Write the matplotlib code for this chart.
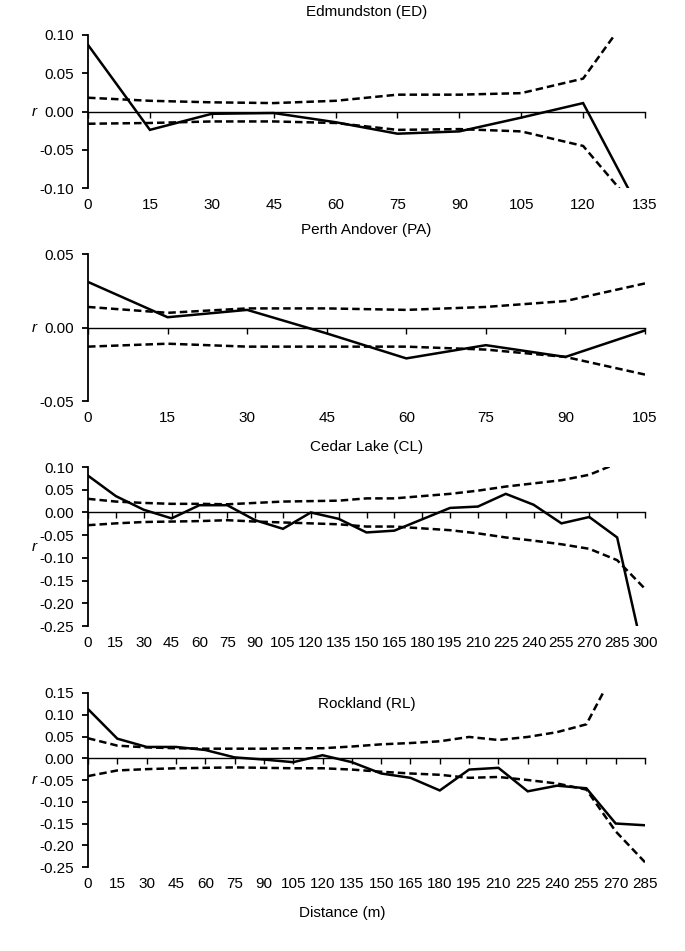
import matplotlib
matplotlib.use("Agg")
import matplotlib.pyplot as plt
from matplotlib.ticker import FormatStrFormatter, MultipleLocator

plt.rcParams["font.family"] = ["Liberation Sans", "DejaVu Sans"]

# distances (m) for each site
dist_ed = [0, 15, 30, 45, 60, 75, 90, 105, 120, 135]
dist_pa = [0, 15, 30, 45, 60, 75, 90, 105]
dist_cl = [0, 15, 30, 45, 60, 75, 90, 105, 120, 135, 150, 165, 180, 195, 210,
           225, 240, 255, 270, 285, 300]
dist_rl = [0, 15, 30, 45, 60, 75, 90, 105, 120, 135, 150, 165, 180, 195, 210,
           225, 240, 255, 270, 285]

# Edmundston (ED)
r_ed = [0.087, -0.024, -0.003, -0.002, -0.014, -0.029, -0.026, -0.008, 0.011, -0.142]
up_ed = [0.018, 0.014, 0.012, 0.011, 0.014, 0.022, 0.022, 0.024, 0.043, 0.155]
lo_ed = [-0.016, -0.015, -0.013, -0.013, -0.015, -0.024, -0.023, -0.026, -0.045, -0.140]

# Perth Andover (PA)
r_pa = [0.031, 0.007, 0.012, -0.004, -0.021, -0.012, -0.020, -0.002]
up_pa = [0.014, 0.010, 0.013, 0.013, 0.012, 0.014, 0.018, 0.030]
lo_pa = [-0.013, -0.011, -0.013, -0.013, -0.013, -0.015, -0.020, -0.032]

# Cedar Lake (CL)
r_cl = [0.081, 0.036, 0.006, -0.013, 0.016, 0.016, -0.017, -0.036, 0.000, -0.014,
        -0.044, -0.040, -0.015, 0.010, 0.013, 0.041, 0.017, -0.024, -0.010, -0.055,
        -0.328]
up_cl = [0.030, 0.024, 0.021, 0.019, 0.019, 0.018, 0.021, 0.024, 0.025, 0.026,
         0.031, 0.031, 0.036, 0.041, 0.048, 0.057, 0.064, 0.071, 0.083, 0.108,
         0.170]
lo_cl = [-0.028, -0.024, -0.021, -0.020, -0.019, -0.017, -0.020, -0.022, -0.024, -0.026,
         -0.031, -0.031, -0.035, -0.039, -0.046, -0.055, -0.062, -0.070, -0.080, -0.105,
         -0.168]

# Rockland (RL)
r_rl = [0.113, 0.045, 0.026, 0.026, 0.019, 0.002, -0.003, -0.009, 0.007, -0.009,
        -0.035, -0.045, -0.074, -0.026, -0.022, -0.076, -0.063, -0.069, -0.150, -0.154]
up_rl = [0.046, 0.029, 0.025, 0.023, 0.022, 0.022, 0.022, 0.023, 0.023, 0.027,
         0.032, 0.035, 0.039, 0.049, 0.042, 0.049, 0.060, 0.078, 0.205, 0.300]
lo_rl = [-0.041, -0.028, -0.025, -0.023, -0.022, -0.021, -0.022, -0.023, -0.023, -0.026,
         -0.031, -0.035, -0.038, -0.045, -0.043, -0.050, -0.058, -0.072, -0.168, -0.239]

paineis = [
    ("Edmundston (ED)", dist_ed, r_ed, up_ed, lo_ed, (-0.10, 0.10)),
    ("Perth Andover (PA)", dist_pa, r_pa, up_pa, lo_pa, (-0.05, 0.05)),
    ("Cedar Lake (CL)", dist_cl, r_cl, up_cl, lo_cl, (-0.25, 0.10)),
    ("Rockland (RL)", dist_rl, r_rl, up_rl, lo_rl, (-0.25, 0.15)),
]

# axes boxes in figure fractions: left, bottom, width, height
caixas = [
    (0.1285, 0.8023, 0.8131, 0.1609),
    (0.1285, 0.5783, 0.8131, 0.1546),
    (0.1285, 0.3417, 0.8131, 0.1672),
    (0.1285, 0.0883, 0.8131, 0.1830),
]
titulo_y = [1.150, 1.163, 1.126, 0.937]
fonte = 11

fig = plt.figure(figsize=(6.85, 9.51), dpi=100)

for (nome, x, r, up, lo, ylim), caixa, ty in zip(paineis, caixas, titulo_y):
    ax = fig.add_axes(caixa)
    ax.plot(x, r, color="black", lw=1.8, solid_joinstyle="miter")
    ax.plot(x, up, color="black", lw=1.8, dashes=(3, 1.6))
    ax.plot(x, lo, color="black", lw=1.8, dashes=(3, 1.6))

    ax.set_xlim(x[0], x[-1])
    ax.set_ylim(*ylim)
    ax.set_xticks(x)
    ax.yaxis.set_major_locator(MultipleLocator(0.05))
    ax.yaxis.set_major_formatter(FormatStrFormatter("%.2f"))

    # x axis line crosses at r = 0, labels stay at the bottom
    ax.spines["top"].set_visible(False)
    ax.spines["right"].set_visible(False)
    ax.spines["bottom"].set_position(("data", 0))
    ax.spines["bottom"].set_linewidth(1.0)
    ax.spines["left"].set_linewidth(1.3)
    ax.tick_params(axis="x", direction="out", length=4, width=1.0, labelbottom=False)
    ax.tick_params(axis="y", direction="out", length=4, width=1.3, labelsize=fonte, pad=6)

    sec = ax.secondary_xaxis("bottom")
    sec.set_xticks(x)
    sec.tick_params(length=0, labelsize=fonte, pad=7)
    sec.spines["bottom"].set_visible(False)

    ax.set_ylabel("r", rotation=0, style="italic", fontsize=fonte, ha="center", va="center")
    ax.yaxis.set_label_coords(-0.097, 0.5)
    ax.set_title(nome, fontsize=fonte, y=ty, pad=0, va="center")

fig.text(0.5, 1 - 913 / 951, "Distance (m)", ha="center", va="center", fontsize=fonte)

fig.savefig("out.png", dpi=100)
